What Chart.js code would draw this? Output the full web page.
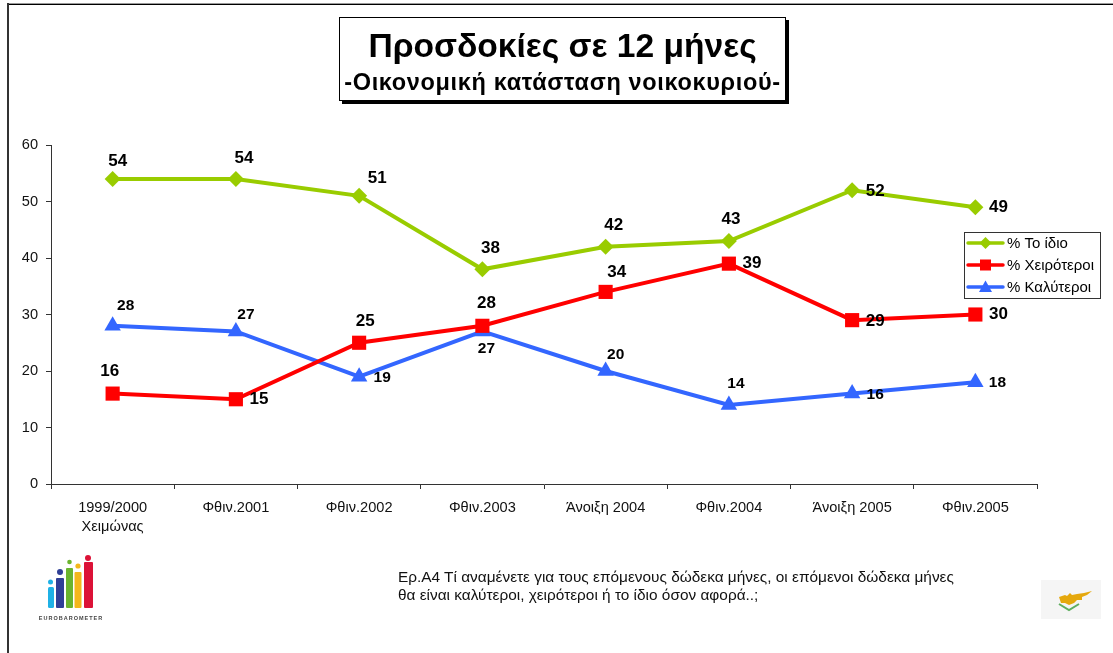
<!DOCTYPE html>
<html lang="el"><head><meta charset="utf-8">
<script src="https://cdn.jsdelivr.net/npm/chart.js@4"></script>
<style>
html,body{margin:0;padding:0;background:#fff;overflow:hidden}
body{width:1113px;height:653px;position:relative;font-family:"Liberation Sans",Arial,sans-serif;color:#000}
#wrap{position:absolute;left:0;top:0;width:1113px;height:653px}
.frame{position:absolute}
#titlebox{position:absolute;left:339px;top:17px;width:447px;height:84px;box-sizing:border-box;border:1px solid #000;background:#fff;box-shadow:3px 3px 0 #000;text-align:center}
#t1{position:absolute;left:0;right:0;top:5px;font:bold 33.6px "Liberation Sans",Arial,sans-serif;line-height:46px;white-space:nowrap}
#t2{position:absolute;left:0;right:0;top:50px;font:bold 23.5px "Liberation Sans",Arial,sans-serif;line-height:28px;letter-spacing:.65px;white-space:nowrap}
#note{position:absolute;left:398px;top:568px;font:15.4px/18px "Liberation Sans",Arial,sans-serif;white-space:nowrap;color:#111}
svg{position:absolute}
</style></head><body>
<div id="wrap"><canvas id="c" width="1113" height="653"></canvas></div>
<div class="frame" style="left:8px;top:3px;width:1105px;height:1px;background:#999"></div>
<div class="frame" style="left:8px;top:4px;width:1105px;height:1px;background:#000"></div>
<div class="frame" style="left:7px;top:3px;width:2px;height:650px;background:#333"></div>
<div id="titlebox"><div id="t1">Προσδοκίες σε 12 μήνες</div><div id="t2">-Οικονομική κατάσταση νοικοκυριού-</div></div>
<div id="note">Ερ.Α4 Τί αναμένετε για τους επόμενους δώδεκα μήνες, οι επόμενοι δώδεκα μήνες<br>θα είναι καλύτεροι, χειρότεροι ή το ίδιο όσον αφορά..;</div>
<svg style="left:0;top:540px" width="120" height="90" viewBox="0 0 120 90">
<g style="filter:blur(.6px)">
<rect x="48" y="47" width="6" height="21" rx="1.500" fill="#1fb1e6"/><circle cx="50.500" cy="42" r="2.500" fill="#1fb1e6"/>
<rect x="56" y="38" width="8" height="30" rx="1" fill="#2f3f96"/><circle cx="60" cy="32" r="3" fill="#2f3f96"/>
<rect x="66" y="28" width="7" height="40" rx="1" fill="#6ab42e"/><circle cx="69.500" cy="22" r="2.300" fill="#6ab42e"/>
<rect x="74.500" y="32" width="7" height="36" rx="1" fill="#f4b71b"/><circle cx="78" cy="26" r="2.600" fill="#f4b71b"/>
<rect x="84" y="22" width="9" height="46" rx="1" fill="#dc1237"/><circle cx="88" cy="18" r="3" fill="#dc1237"/>
</g></svg>
<div style="position:absolute;left:36px;top:615px;width:70px;text-align:center;font:bold 5.5px 'Liberation Sans',Arial,sans-serif;letter-spacing:1px;color:#444;white-space:nowrap">EUROBAROMETER</div>
<svg style="left:1041px;top:580px" width="60" height="39" viewBox="0 0 60 39">
<rect width="60" height="39" fill="#f5f5f5"/>
<path d="M18 17 L24 15 L26 16 L29 13 L31 15 L36 14 L43 13 L51 11 L46 15 L41 17 L41 20 L36 20 L33 23 L28 25 L24 23 L20 23 Z" fill="#e5a80d" style="filter:blur(.4px)"/>
<path d="M18 24 L28 30 L38 24" fill="none" stroke="#5fae5f" stroke-width="2"/>
</svg>
<script>
const categories=[["1999/2000","Χειμώνας"],"Φθιν.2001","Φθιν.2002","Φθιν.2003","Άνοιξη 2004","Φθιν.2004","Άνοιξη 2005","Φθιν.2005"];
const same=[54,54,51,38,42,43,52,49];
const worse=[16,15,25,28,34,39,29,30];
const better=[28,27,19,27,20,14,16,18];
const yTicks=[0,10,20,30,40,50,60];
const seriesNames=["% Το ίδιο","% Χειρότεροι","% Καλύτεροι"];
const colours=["#99cc00","#ff0000","#3366ff"];

// label nudges (dx, dy from the point), per series
const nudgeSame=[[5,-18],[8,-21],[18,-18],[8,-21],[8,-21],[2,-22],[23,1],[23,0]];
const nudgeWorse=[[-3,-22],[23,0],[6,-21],[4,-22],[11,-20],[23,0],[23,1],[23,0]];
const nudgeBetter=[[13,-20],[10,-17],[23,1],[4,17],[10,-16],[7,-21],[23,1],[22,0]];

const PL=51,PR=1037,PT=145,PB=484;

const labelPlugin={id:'pointLabels',afterDatasetsDraw(ch){
  const g=ch.ctx;g.save();g.fillStyle='#000';g.textAlign='center';g.textBaseline='middle';
  const nudges=[nudgeSame,nudgeWorse,nudgeBetter];
  const fonts=[17,17,15.5];
  ch.data.datasets.forEach((ds,i)=>{
    const m=ch.getDatasetMeta(i);
    g.font='bold '+fonts[i]+'px "Liberation Sans",Arial,sans-serif';
    ds.data.forEach((v,k)=>{const p=m.data[k];g.fillText(String(v),p.x+nudges[i][k][0],p.y+nudges[i][k][1]);});
  });
  g.restore();
}};

const legendPlugin={id:'boxLegend',afterDraw(ch){
  const g=ch.ctx,x=964,y=232,w=137,h=67;
  g.save();g.fillStyle='#fff';g.fillRect(x,y,w,h);
  g.strokeStyle='#333';g.lineWidth=1;g.strokeRect(x+.5,y+.5,w-1,h-1);
  g.font='15px "Liberation Sans",Arial,sans-serif';g.textBaseline='middle';g.textAlign='left';
  ch.data.datasets.forEach((ds,i)=>{
    const cy=y+11+i*22;
    g.strokeStyle=ds.borderColor;g.fillStyle=ds.borderColor;g.lineWidth=3.5;g.lineCap='round';
    g.beginPath();g.moveTo(x+4,cy);g.lineTo(x+39,cy);g.stroke();
    const mx=x+21.5;g.beginPath();
    if(i===0){g.moveTo(mx,cy-6);g.lineTo(mx+6,cy);g.lineTo(mx,cy+6);g.lineTo(mx-6,cy);}
    if(i===1){g.rect(mx-5.5,cy-5.5,11,11);}
    if(i===2){g.moveTo(mx,cy-6.5);g.lineTo(mx+6.5,cy+5);g.lineTo(mx-6.500,cy+5);}
    g.closePath();g.fill();
    g.fillStyle='#000';g.fillText(ds.label,x+43,cy+.5);
  });
  g.restore();
}};

const mk=(label,data,colour,style,radius)=>({label,data,borderColor:colour,backgroundColor:colour,borderWidth:4,
  pointStyle:style,pointRadius:radius,pointHoverRadius:radius,pointBackgroundColor:colour,pointBorderColor:colour,pointBorderWidth:0,tension:0,clip:false});

new Chart(document.getElementById('c'),{
  type:'line',
  data:{labels:categories,datasets:[
    mk(seriesNames[0],same,colours[0],'rectRot',8),
    mk(seriesNames[1],worse,colours[1],'rect',10),
    mk(seriesNames[2],better,colours[2],'triangle',9.5)
  ]},
  options:{
    responsive:false,animation:false,devicePixelRatio:1,
    layout:{padding:0},
    plugins:{legend:{display:false},title:{display:false},tooltip:{enabled:false}},
    scales:{
      x:{offset:true,grid:{drawOnChartArea:false,drawTicks:true,tickLength:5,color:'#333',offset:true},border:{color:'#333',width:1},
        ticks:{color:'#111',font:{family:'"Liberation Sans",Arial,sans-serif',size:14.6,lineHeight:1.3},maxRotation:0,minRotation:0,autoSkip:false,padding:9},
        afterFit(s){s.height=653-PB;s.paddingLeft=0;s.paddingRight=0;}},
      y:{min:0,max:60,afterBuildTicks(s){s.ticks=yTicks.map(v=>({value:v}));},
        grid:{drawOnChartArea:false,tickLength:5,color:'#333'},border:{color:'#333',width:1},
        ticks:{color:'#111',font:{family:'"Liberation Sans",Arial,sans-serif',size:14.6},padding:8},
        afterFit(s){s.width=PL;s.paddingTop=0;s.paddingBottom=0;}}
    }
  },
  plugins:[labelPlugin,legendPlugin,{id:'pad',beforeLayout(ch){ch.options.layout.padding={top:PT,right:1113-PR,left:0,bottom:0};}}]
});
</script></body></html>
